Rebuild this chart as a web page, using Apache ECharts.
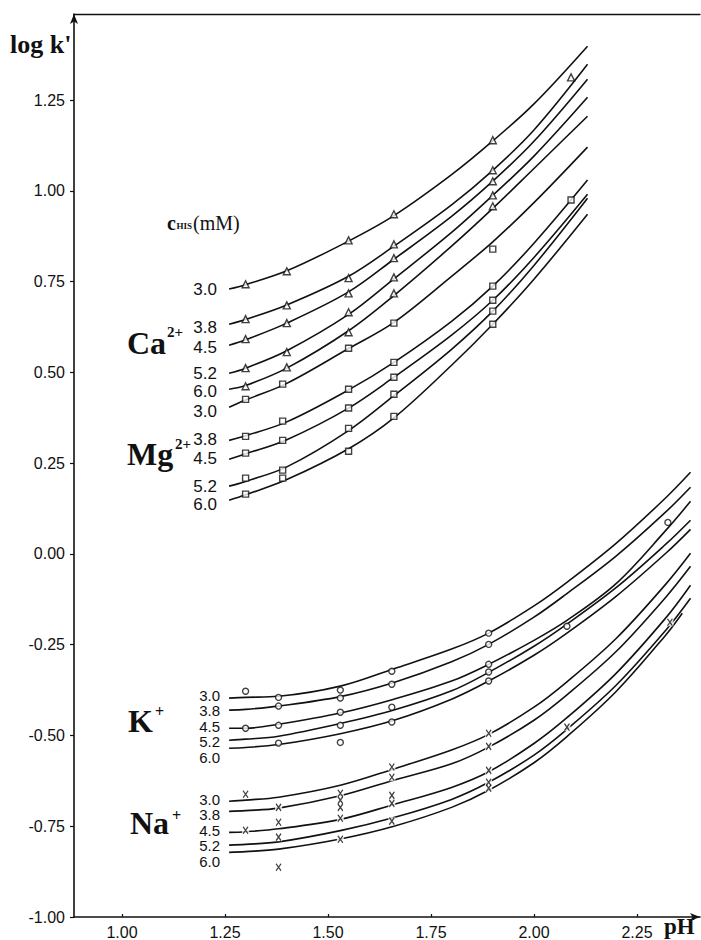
<!DOCTYPE html>
<html><head><meta charset="utf-8">
<script src="https://cdn.jsdelivr.net/npm/echarts@6/dist/echarts.min.js"></script>
<style>html,body{margin:0;padding:0;background:#fff}#c{width:701px;height:940px}</style>
</head><body><div id="c"></div>
<script>
// ---- data (pH, log k') ----
const xTicks = [1.00, 1.25, 1.50, 1.75, 2.00, 2.25];
const yTicks = [-1.00, -0.75, -0.50, -0.25, 0.00, 0.25, 0.50, 0.75, 1.00, 1.25];
const concLabels = ['3.0', '3.8', '4.5', '5.2', '6.0'];

const pHCaMg = [1.26, 1.30, 1.40, 1.55, 1.66, 1.80, 1.90, 2.00, 2.13];
const ca30 = [0.730, 0.742, 0.780, 0.862, 0.932, 1.045, 1.138, 1.240, 1.399];
const ca38 = [0.633, 0.646, 0.686, 0.765, 0.848, 0.962, 1.057, 1.168, 1.349];
const ca45 = [0.575, 0.590, 0.636, 0.722, 0.812, 0.930, 1.027, 1.137, 1.308];
const ca52 = [0.498, 0.512, 0.560, 0.660, 0.758, 0.886, 0.988, 1.096, 1.258];
const ca60 = [0.454, 0.464, 0.512, 0.615, 0.712, 0.848, 0.952, 1.062, 1.206];
const mg30 = [0.404, 0.424, 0.470, 0.566, 0.638, 0.765, 0.860, 0.968, 1.121];
const mg38 = [0.313, 0.326, 0.364, 0.452, 0.528, 0.641, 0.738, 0.856, 1.030];
const mg45 = [0.261, 0.276, 0.315, 0.402, 0.487, 0.603, 0.699, 0.817, 0.991];
const mg52 = [0.187, 0.200, 0.240, 0.340, 0.436, 0.564, 0.669, 0.795, 0.980];
const mg60 = [0.148, 0.163, 0.205, 0.290, 0.375, 0.520, 0.633, 0.757, 0.936];

const pHKNa = [1.26, 1.30, 1.38, 1.53, 1.66, 1.80, 1.89, 2.00, 2.08, 2.20, 2.32, 2.38];
const pHNa60 = [1.26, 1.30, 1.38, 1.53, 1.66, 1.80, 1.89, 2.00, 2.08, 2.20, 2.32, 2.36];
const k30 = [-0.397, -0.395, -0.392, -0.364, -0.316, -0.262, -0.218, -0.143, -0.078, 0.030, 0.155, 0.225];
const k38 = [-0.430, -0.428, -0.419, -0.393, -0.354, -0.297, -0.249, -0.174, -0.109, -0.005, 0.116, 0.184];
const k45 = [-0.480, -0.480, -0.469, -0.438, -0.400, -0.350, -0.304, -0.238, -0.183, -0.081, 0.065, 0.145];
const k52 = [-0.513, -0.510, -0.502, -0.467, -0.430, -0.377, -0.326, -0.254, -0.193, -0.092, 0.027, 0.093];
const k60 = [-0.535, -0.533, -0.525, -0.495, -0.458, -0.400, -0.350, -0.279, -0.218, -0.116, 0.002, 0.068];
const na30 = [-0.681, -0.678, -0.670, -0.637, -0.592, -0.540, -0.497, -0.422, -0.352, -0.232, -0.083, 0.002];
const na38 = [-0.709, -0.707, -0.700, -0.666, -0.623, -0.578, -0.532, -0.458, -0.388, -0.268, -0.119, -0.034];
const na45 = [-0.767, -0.765, -0.757, -0.731, -0.690, -0.643, -0.600, -0.522, -0.451, -0.328, -0.176, -0.086];
const na52 = [-0.802, -0.800, -0.793, -0.762, -0.726, -0.676, -0.629, -0.554, -0.483, -0.361, -0.210, -0.122];
const na60 = [-0.822, -0.820, -0.813, -0.785, -0.750, -0.698, -0.651, -0.575, -0.503, -0.378, -0.223, -0.163];

const caPts = [
  [1.30, 0.743], [1.30, 0.647], [1.30, 0.592], [1.30, 0.512], [1.30, 0.462],
  [1.40, 0.779], [1.40, 0.685], [1.40, 0.636], [1.40, 0.556], [1.40, 0.514],
  [1.55, 0.864], [1.55, 0.760], [1.55, 0.718], [1.55, 0.666], [1.55, 0.611],
  [1.66, 0.936], [1.66, 0.853], [1.66, 0.815], [1.66, 0.762], [1.66, 0.718],
  [1.90, 1.140], [1.90, 1.057], [1.90, 1.027], [1.90, 0.988], [1.90, 0.958],
  [2.09, 1.313]];
const mgPts = [
  [1.30, 0.426], [1.30, 0.324], [1.30, 0.278], [1.30, 0.209], [1.30, 0.165],
  [1.39, 0.468], [1.39, 0.366], [1.39, 0.313], [1.39, 0.231], [1.39, 0.209],
  [1.55, 0.567], [1.55, 0.454], [1.55, 0.402], [1.55, 0.346], [1.55, 0.283],
  [1.66, 0.636], [1.66, 0.528], [1.66, 0.487], [1.66, 0.440], [1.66, 0.379],
  [1.90, 0.840], [1.90, 0.738], [1.90, 0.699], [1.90, 0.669], [1.90, 0.633],
  [2.09, 0.975]];
const kPts = [
  [1.30, -0.378], [1.30, -0.480],
  [1.38, -0.395], [1.38, -0.419], [1.38, -0.472], [1.38, -0.521],
  [1.53, -0.375], [1.53, -0.397], [1.53, -0.436], [1.53, -0.472], [1.53, -0.519],
  [1.655, -0.323], [1.655, -0.359], [1.655, -0.422], [1.655, -0.463],
  [1.89, -0.218], [1.89, -0.249], [1.89, -0.304], [1.89, -0.325], [1.89, -0.350],
  [2.08, -0.199], [2.325, 0.087]];
const naPts = [
  [1.30, -0.662], [1.30, -0.761],
  [1.38, -0.698], [1.38, -0.739], [1.38, -0.780], [1.38, -0.863],
  [1.53, -0.659], [1.53, -0.678], [1.53, -0.698], [1.53, -0.728], [1.53, -0.786],
  [1.655, -0.587], [1.655, -0.615], [1.655, -0.665], [1.655, -0.687], [1.655, -0.736],
  [1.89, -0.494], [1.89, -0.530], [1.89, -0.596], [1.89, -0.629], [1.89, -0.645],
  [2.08, -0.477], [2.33, -0.188]];

// ---- layout ----
const INK = '#111';
const caLabelY = [289, 327, 347, 373, 391];
const mgLabelY = [411, 439, 458, 486, 504];
const kLabelY = [695, 710.5, 726, 741.5, 757];
const naLabelY = [799, 814.5, 830, 845.5, 861];

const zip = (xs, ys) => xs.map((x, i) => [x, ys[i]]);
function curve(ys, xs) {
  return {
    type: 'line', data: zip(xs, ys), smooth: 0.35, showSymbol: false, symbol: 'none',
    lineStyle: { color: INK, width: 1.6 }, silent: true, z: 2, animation: false
  };
}
const series = [];
[ca30, ca38, ca45, ca52, ca60, mg30, mg38, mg45, mg52, mg60].forEach(a => series.push(curve(a, pHCaMg)));
[k30, k38, k45, k52, k60, na30, na38, na45, na52].forEach(a => series.push(curve(a, pHKNa)));
series.push(curve(na60, pHNa60));

const mk = (data, symbol, size, style) => ({
  type: 'scatter', data, symbol, symbolSize: size, silent: true, z: 3, animation: false, itemStyle: style
});
const hollow = { color: '#fff', borderColor: INK, borderWidth: 1.4 };
series.push(mk(caPts, 'triangle', 7, hollow));
series.push(mk(mgPts, 'rect', 6, hollow));
series.push(mk(kPts, 'circle', 6, hollow));
series.push(mk(naPts, 'rect', [7, 8], { color: '#fff', borderWidth: 0 }));
series.push(mk(naPts, 'path://M0,0L8,10M8,0L0,10', [5, 7], { color: 'none', borderColor: INK, borderWidth: 1.3 }));

const sans = '"Liberation Sans", Arial, sans-serif';
const serif = '"Liberation Serif", "Times New Roman", serif';
function txt(text, x, y, font, align) {
  return { type: 'text', silent: true, z: 10,
    style: { text, x, y, font, fill: INK, align: align || 'left', verticalAlign: 'middle' } };
}
const graphics = [];
caLabelY.forEach((y, i) => graphics.push(txt(concLabels[i], 217, y, '17px ' + sans, 'right')));
mgLabelY.forEach((y, i) => graphics.push(txt(concLabels[i], 217, y, '17px ' + sans, 'right')));
kLabelY.forEach((y, i) => graphics.push(txt(concLabels[i], 220, y, '15px ' + sans, 'right')));
naLabelY.forEach((y, i) => graphics.push(txt(concLabels[i], 220, y, '15px ' + sans, 'right')));
graphics.push(txt("log k'", 10, 44, 'bold 26px ' + serif));
graphics.push(txt('pH', 664, 926, 'bold 23px ' + serif));
graphics.push(txt('c', 167, 223, 'bold 20px ' + serif));
graphics.push(txt('HIS', 176.5, 226, 'bold 9px ' + serif));
graphics.push(txt('(mM)', 193, 223, '20px ' + serif));
graphics.push(txt('Ca', 127, 343, 'bold 32px ' + serif));
graphics.push(txt('2+', 167, 332, 'bold 15px ' + serif));
graphics.push(txt('Mg', 127, 454, 'bold 32px ' + serif));
graphics.push(txt('2+', 175, 444, 'bold 15px ' + serif));
graphics.push(txt('K', 128, 721, 'bold 32px ' + serif));
graphics.push(txt('+', 155, 711, 'bold 16px ' + serif));
graphics.push(txt('Na', 130, 823, 'bold 32px ' + serif));
graphics.push(txt('+', 172, 815, 'bold 16px ' + serif));

const XMIN = 0.8835, XMAX = 2.403, YMIN = -1.0, YMAX = 1.4876;
const axisLineStyle = { color: INK, width: 1.6 };
const option = {
  animation: false,
  backgroundColor: '#fff',
  grid: { left: 74, right: 1, top: 14, bottom: 23, containLabel: false, outerBoundsMode: 'none' },
  xAxis: [{
    type: 'value', min: XMIN, max: XMAX, position: 'bottom',
    axisLine: { show: true, onZero: false, lineStyle: axisLineStyle, symbol: ['none', 'arrow'], symbolSize: [6, 10] },
    axisTick: { show: true, inside: true, length: 3, customValues: xTicks, lineStyle: { color: INK, width: 1.2 } },
    axisLabel: { customValues: xTicks, formatter: v => v.toFixed(2), fontSize: 16, fontFamily: sans, color: INK, margin: 7 },
    splitLine: { show: false }
  }, {
    type: 'value', min: XMIN, max: XMAX, position: 'top',
    axisLine: { show: true, onZero: false, lineStyle: { color: INK, width: 1.4 } },
    axisTick: { show: false }, axisLabel: { show: false }, splitLine: { show: false }
  }],
  yAxis: {
    type: 'value', min: YMIN, max: YMAX,
    axisLine: { show: true, onZero: false, lineStyle: axisLineStyle, symbol: ['none', 'arrow'], symbolSize: [6, 10] },
    axisTick: { show: true, length: 4, customValues: yTicks, lineStyle: { color: INK, width: 1.2 } },
    axisLabel: { customValues: yTicks, formatter: v => v.toFixed(2), fontSize: 16, fontFamily: sans, color: INK, margin: 9 },
    splitLine: { show: false }
  },
  series,
  graphic: graphics
};
const chart = echarts.init(document.getElementById('c'), null, { renderer: 'svg' });
chart.setOption(option);
</script></body></html>
